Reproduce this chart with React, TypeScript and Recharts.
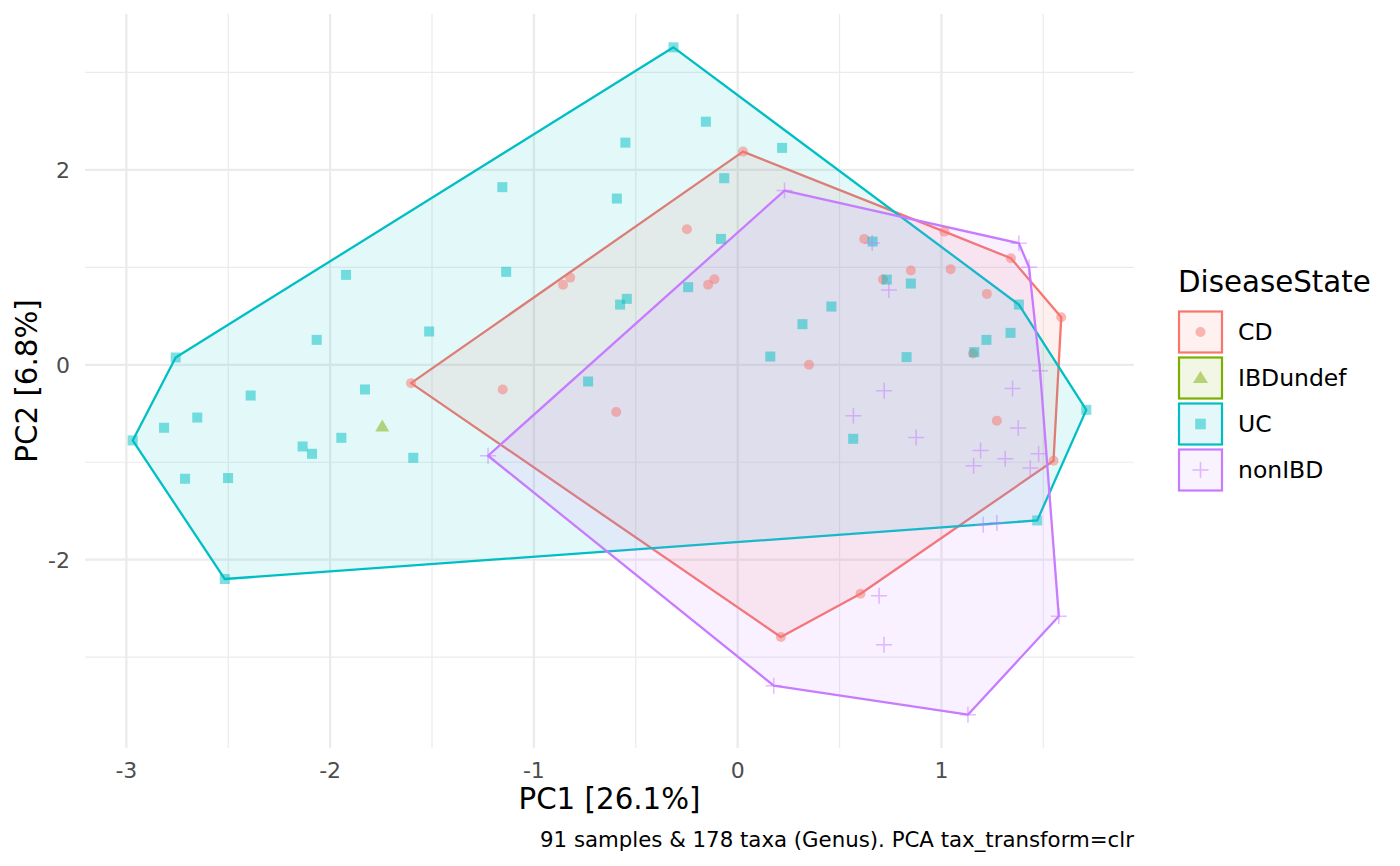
import React from "react";
import { ScatterChart, Scatter, XAxis, YAxis, ReferenceLine } from "recharts";

// ---------- data ----------
const groups = ["CD", "IBDundef", "UC", "nonIBD"];
const groupColors = ["#F8766D", "#7CAE00", "#00BFC4", "#C77CFF"];

const cdPC1 = [-1.603, -0.857, -0.822, -1.153, -0.596, -0.249, -0.145, -0.114, 0.026, 0.621, 0.713, 0.85, 1.015, 1.045, 1.223, 1.341, 1.588, 1.155, 0.35, 1.272, 1.55, 0.603, 0.212];
const cdPC2 = [-0.188, 0.821, 0.895, -0.253, -0.485, 1.392, 0.821, 0.879, 2.188, 1.292, 0.875, 0.967, 1.367, 0.982, 0.728, 1.094, 0.489, 0.116, 0.0, -0.574, -0.985, -2.349, -2.793];

const ibdPC1 = [-1.744];
const ibdPC2 = [-0.633];

const ucPC1 = [-1.922, -2.066, -1.514, -2.758, -2.39, -1.829, -2.652, -2.815, -2.969, -2.135, -2.089, -1.945, -1.592, -2.712, -2.501, -2.517, -0.315, -0.156, -0.551, 0.218, -1.155, -0.593, -0.066, -0.082, -1.136, -0.544, -0.577, -0.243, 0.16, -0.734, 0.318, 0.662, 0.732, 0.85, 0.46, 1.38, 1.339, 1.221, 1.161, 0.829, 1.711, 0.567, 1.47];
const ucPC2 = [0.923, 0.256, 0.342, 0.075, -0.315, -0.253, -0.541, -0.646, -0.776, -0.838, -0.913, -0.749, -0.954, -1.169, -1.162, -2.198, 3.258, 2.495, 2.28, 2.226, 1.823, 1.706, 1.915, 1.292, 0.954, 0.677, 0.618, 0.797, 0.085, -0.171, 0.417, 1.265, 0.875, 0.834, 0.598, 0.618, 0.328, 0.256, 0.13, 0.079, -0.462, -0.759, -1.597];

const nonPC1 = [0.23, 0.66, 0.742, 1.38, 1.43, 1.484, 0.719, 1.349, 0.568, 1.377, 0.876, 1.192, 1.313, 1.158, 1.477, 1.436, 1.205, 1.272, 0.694, 0.718, 0.177, 1.13, 1.576, -1.225];
const nonPC2 = [1.788, 1.251, 0.769, 1.248, 1.002, -0.062, -0.267, -0.243, -0.523, -0.649, -0.746, -0.879, -0.964, -1.036, -0.913, -1.059, -1.641, -1.624, -2.369, -2.872, -3.292, -3.59, -2.581, -0.933];

const xTicks = [-3, -2, -1, 0, 1];
const yTicks = [-2, 0, 2];
const xMinor = [-2.5, -1.5, -0.5, 0.5, 1.5];
const yMinor = [-3, -1, 1, 3];

const xTitle = "PC1 [26.1%]";
const yTitle = "PC2 [6.8%]";
const caption = "91 samples & 178 taxa (Genus). PCA tax_transform=clr";
const legendTitle = "DiseaseState";

// ---------- layout ----------
const X_DOMAIN: [number, number] = [-3.203, 1.945];
const Y_DOMAIN: [number, number] = [-3.932, 3.6];
const FONT = "DejaVu Sans";
const TICK_SIZE = 22;
const CAPTION_SIZE = 21.3;
const LEGEND_TEXT = 23.5;
const BIG = 29.3;

type Pt = { x: number; y: number };
const toPoints = (xs: number[], ys: number[]): Pt[] => xs.map((x, i) => ({ x, y: ys[i] }));

const cdPts = toPoints(cdPC1, cdPC2);
const ibdPts = toPoints(ibdPC1, ibdPC2);
const ucPts = toPoints(ucPC1, ucPC2);
const nonPts = toPoints(nonPC1, nonPC2);

function convexHull(pts: Pt[]): Pt[] {
  const p = [...pts].sort((a, b) => (a.x === b.x ? a.y - b.y : a.x - b.x));
  if (p.length < 3) return p;
  const cross = (o: Pt, a: Pt, b: Pt) => (a.x - o.x) * (b.y - o.y) - (a.y - o.y) * (b.x - o.x);
  const lower: Pt[] = [];
  for (const pt of p) {
    while (lower.length >= 2 && cross(lower[lower.length - 2], lower[lower.length - 1], pt) <= 0) lower.pop();
    lower.push(pt);
  }
  const upper: Pt[] = [];
  for (let i = p.length - 1; i >= 0; i--) {
    const pt = p[i];
    while (upper.length >= 2 && cross(upper[upper.length - 2], upper[upper.length - 1], pt) <= 0) upper.pop();
    upper.push(pt);
  }
  upper.pop();
  lower.pop();
  return lower.concat(upper);
}

const makeHull = (color: string) => (props: any) => {
  const pts = (props && props.points) || [];
  if (pts.length < 3) return <g />;
  return (
    <polygon
      points={pts.map((p: any) => `${p.x},${p.y}`).join(" ")}
      fill={color}
      fillOpacity={0.11}
      stroke={color}
      strokeWidth={2.3}
      strokeLinejoin="round"
    />
  );
};

const Empty = () => <g />;

const CircleShape = (props: any) => (
  <circle cx={props.cx} cy={props.cy} r={5} fill={groupColors[0]} fillOpacity={0.5} />
);
const TriShape = (props: any) => {
  const { cx, cy } = props;
  return (
    <polygon
      points={`${cx},${cy - 7} ${cx - 7},${cy + 5} ${cx + 7},${cy + 5}`}
      fill={groupColors[1]}
      fillOpacity={0.5}
    />
  );
};
const SquareShape = (props: any) => (
  <rect x={props.cx - 5} y={props.cy - 5} width={10} height={10} fill={groupColors[2]} fillOpacity={0.5} />
);
const PlusShape = (props: any) => {
  const { cx, cy } = props;
  return (
    <path
      d={`M${cx - 8},${cy}H${cx + 8}M${cx},${cy - 8}V${cy + 8}`}
      stroke={groupColors[3]}
      strokeOpacity={0.5}
      strokeWidth={1.5}
      fill="none"
    />
  );
};

const XTick = (props: any) => (
  <text x={props.x} y={props.y + 30} textAnchor="middle" fontSize={TICK_SIZE} fill="#4D4D4D" fontFamily={FONT}>
    {String(props.payload.value)}
  </text>
);
const YTick = (props: any) => (
  <text x={props.x - 15} y={props.y} dy="0.36em" textAnchor="end" fontSize={TICK_SIZE} fill="#4D4D4D" fontFamily={FONT}>
    {String(props.payload.value)}
  </text>
);

const XLabel = (props: any) => {
  const vb = props.viewBox || { x: 77, y: 740, width: 1049, height: 110 };
  return (
    <g>
      <text x={vb.x + vb.width / 2} y={vb.y + 61} textAnchor="middle" fontSize={BIG} fill="#000" fontFamily={FONT}>
        {xTitle}
      </text>
      <text x={vb.x + vb.width} y={vb.y + 99} textAnchor="end" fontSize={CAPTION_SIZE} fill="#000" fontFamily={FONT}>
        {caption}
      </text>
    </g>
  );
};
const YLabel = (props: any) => {
  const vb = props.viewBox || { x: 0, y: 6, width: 77, height: 734 };
  const cx = vb.x + 18;
  const cy = vb.y + vb.height / 2;
  return (
    <text
      x={cx}
      y={cy}
      dy="0.36em"
      textAnchor="middle"
      transform={`rotate(-90, ${cx}, ${cy})`}
      fontSize={BIG}
      fill="#000"
      fontFamily={FONT}
    >
      {yTitle}
    </text>
  );
};

const legendGlyph = (i: number, cx: number, cy: number) => {
  const c = groupColors[i];
  if (i === 0) return <circle cx={cx} cy={cy} r={5} fill={c} fillOpacity={0.5} />;
  if (i === 1)
    return <polygon points={`${cx},${cy - 7} ${cx - 7.5},${cy + 5} ${cx + 7.5},${cy + 5}`} fill={c} fillOpacity={0.5} />;
  if (i === 2) return <rect x={cx - 5.3} y={cy - 5.3} width={10.6} height={10.6} fill={c} fillOpacity={0.5} />;
  return (
    <path
      d={`M${cx - 8},${cy}H${cx + 8}M${cx},${cy - 8}V${cy + 8}`}
      stroke={c}
      strokeOpacity={0.5}
      strokeWidth={1.5}
    />
  );
};

const LegendBox = () => (
  <svg
    width={230}
    height={250}
    style={{ position: "absolute", left: 1162, top: 252, overflow: "visible" }}
  >
    <text x={8} y={32} fontSize={BIG} fill="#000" fontFamily={FONT}>
      {legendTitle}
    </text>
    {groups.map((g, i) => {
      const top = 51.5 + i * 46;
      const cy = top + 20.5;
      return (
        <g key={g}>
          <rect x={9} y={top} width={43} height={41} fill={groupColors[i]} fillOpacity={0.1} stroke={groupColors[i]} strokeWidth={2.2} />
          {legendGlyph(i, 30.5, cy)}
          <text x={68} y={cy} dy="0.36em" fontSize={LEGEND_TEXT} fill="#000" fontFamily={FONT}>
            {g}
          </text>
        </g>
      );
    })}
  </svg>
);

const gridColor = "#EBEBEB";

export default function App() {
  const hulls = [
    { pts: convexHull(cdPts), color: groupColors[0] },
    { pts: convexHull(ucPts), color: groupColors[2] },
    { pts: convexHull(nonPts), color: groupColors[3] },
  ];
  return (
    <div style={{ position: "relative", width: 1384, height: 850, fontFamily: FONT }}>
      <ScatterChart width={1384} height={850} margin={{ top: 6, right: 258, bottom: 0, left: 0 }}>
        <XAxis
          type="number"
          dataKey="x"
          domain={X_DOMAIN}
          allowDataOverflow
          ticks={xTicks}
          interval={0}
          tickLine={false}
          axisLine={false}
          tickSize={0}
          tickMargin={0}
          height={110}
          tick={XTick}
          label={XLabel as any}
        />
        <YAxis
          type="number"
          dataKey="y"
          domain={Y_DOMAIN}
          allowDataOverflow
          ticks={yTicks}
          interval={0}
          tickLine={false}
          axisLine={false}
          tickSize={0}
          tickMargin={0}
          width={77}
          tick={YTick}
          label={YLabel as any}
        />
        {xMinor.map((v) => (
          <ReferenceLine key={"xm" + v} x={v} stroke={gridColor} strokeWidth={1.2} />
        ))}
        {yMinor.map((v) => (
          <ReferenceLine key={"ym" + v} y={v} stroke={gridColor} strokeWidth={1.2} />
        ))}
        {xTicks.map((v) => (
          <ReferenceLine key={"xM" + v} x={v} stroke={gridColor} strokeWidth={2.3} />
        ))}
        {yTicks.map((v) => (
          <ReferenceLine key={"yM" + v} y={v} stroke={gridColor} strokeWidth={2.3} />
        ))}
        {hulls.map((h, i) => (
          <Scatter
            key={"hull" + i}
            data={h.pts}
            shape={Empty}
            line={makeHull(h.color) as any}
            lineType="joint"
            legendType="none"
            isAnimationActive={false}
          />
        ))}
        <Scatter data={cdPts} shape={CircleShape} isAnimationActive={false} />
        <Scatter data={ibdPts} shape={TriShape} isAnimationActive={false} />
        <Scatter data={ucPts} shape={SquareShape} isAnimationActive={false} />
        <Scatter data={nonPts} shape={PlusShape} isAnimationActive={false} />
      </ScatterChart>
      <LegendBox />
    </div>
  );
}
